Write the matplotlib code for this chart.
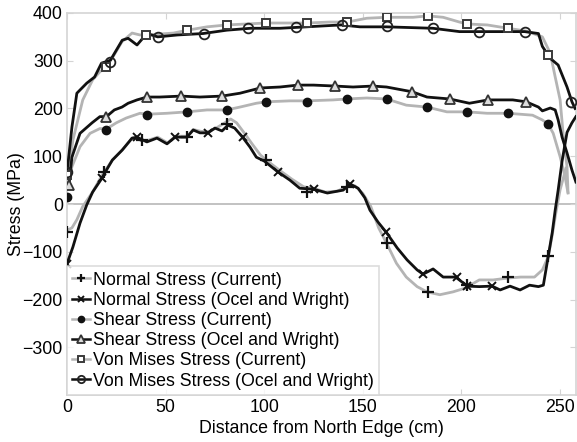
import matplotlib
matplotlib.use("Agg")
import matplotlib.pyplot as plt
from matplotlib.lines import Line2D

plt.rcParams["font.family"] = ["Liberation Sans", "DejaVu Sans"]

# Normal stress (current) - grey line
norm_cur_x = [0, 2.5, 5, 8, 13, 17.7, 23, 28, 33, 40, 46, 51, 55, 61, 64, 68, 72, 76, 80, 83, 86,
              90, 94, 98, 101, 108, 114, 120, 125, 131, 137, 142, 146, 150, 154, 158, 162, 167,
              172, 177.5, 182.5, 189, 195.7, 202, 209, 216, 223.6, 230, 237, 241, 244, 246, 248,
              250, 253]
norm_cur_y = [-55, -50, -33, -5, 25, 60, 92, 113, 138, 132, 140, 128, 142, 142, 156, 152, 152, 160,
              170, 178, 170, 148, 125, 103, 92, 70, 52, 36, 33, 25, 27, 36, 38, 22, -5, -50, -82,
              -124, -153, -173, -184, -190, -184, -176, -159, -159, -155, -153, -153, -138, -110,
              -65, -15, 30, 75]
norm_cur_mx = [0, 19, 38, 61, 81, 101, 121.7, 142, 162, 183, 203, 223.6, 244]
norm_cur_my = [-59, 68, 134, 140, 167, 92, 25, 35, -82, -184, -170, -153, -109]

# Normal stress (Ocel and Wright) - black line
norm_ow_x = [0, 3, 6.6, 10, 13, 17.7, 20, 23, 28, 33, 35.5, 40.5, 45.6, 50.7, 54.8, 60.8, 64, 67.4,
             71.5, 75, 78.6, 81.6, 85, 89, 92.8, 96, 100, 107, 113, 118, 125, 132, 140, 143.5,
             147.6, 151, 153.6, 157.7, 161.8, 167.4, 172.4, 177.5, 180.5, 185.6, 190.7, 197, 203,
             209, 215.5, 219.6, 224.6, 229.7, 234.5, 239, 241.5, 244, 246, 247.5, 249, 251, 253.5,
             256, 258]
norm_ow_y = [-125, -90, -40, -2, 25, 54, 71, 92, 113, 138, 140, 130, 138, 126, 140, 140, 155, 149,
             149, 159, 153, 165, 159, 140, 119, 98, 90, 67, 50, 33, 31, 23, 29, 42, 33, 13, -13,
             -38, -59, -92, -117, -138, -147, -136, -153, -153, -172, -173, -172, -180, -172, -180,
             -170, -173, -170, -109, -60, -13, 29, 90, 150, 170, 183]
norm_ow_mx = [0, 17.7, 35.5, 54.8, 71.5, 89, 107, 125, 143.5, 161.8, 180.5, 197.8, 203, 215.5]
norm_ow_my = [-125, 54, 140, 140, 149, 140, 67, 31, 42, -59, -147, -153, -172, -172]

# Shear stress (current) - grey line
shear_cur_x = [0.5, 2.5, 6.6, 11.7, 16.7, 20, 25, 30, 37, 40.5, 50.7, 61, 71, 81, 87.7, 96, 101,
               113, 121.7, 135, 142, 152, 162, 172, 182.5, 192.6, 203, 213, 223.6, 236, 241, 244,
               246.5, 250, 252.5, 254]
shear_cur_y = [36, 78, 120, 148, 158, 157, 170, 180, 190, 188, 190, 193, 197, 197, 203, 211, 214,
               216, 216, 218, 220, 222, 220, 207, 203, 193, 193, 190, 190, 186, 176, 167, 148, 99,
               57, 23]
shear_cur_mx = [0, 20, 40.5, 61, 81, 101, 121.7, 142, 162, 182.5, 203, 223.6, 244]
shear_cur_my = [15, 155, 186, 193, 197, 214, 214, 220, 220, 203, 193, 190, 167]

# Shear stress (Ocel and Wright) - black line
shear_ow_x = [1, 2.5, 6.6, 12.7, 16.7, 20, 24, 27.9, 31, 35.5, 40.5, 47, 58, 67.4, 78.6, 87.7, 98,
              108, 117, 125, 136, 145, 155, 162, 175, 182.5, 194, 204, 213.5, 226, 232.8, 239, 241,
              245, 247.5, 249, 251, 253.5, 256, 258]
shear_ow_y = [40, 98, 148, 170, 183, 183, 197, 203, 211, 218, 224, 224, 226, 224, 226, 232, 243,
              245, 249, 249, 247, 245, 247, 245, 235, 224, 220, 211, 218, 218, 214, 203, 195, 201,
              197, 176, 140, 107, 71, 46]
shear_ow_mx = [1, 20, 40.5, 58, 78.6, 98, 117, 136, 155, 175, 194, 213.5, 232.8]
shear_ow_my = [40, 183, 224, 226, 226, 243, 249, 247, 247, 235, 220, 218, 214]

# Von Mises stress (current) - grey line
vm_cur_x = [0.5, 3, 8, 13, 16.7, 19.8, 23.3, 27.9, 33, 37, 40, 54, 61, 71, 81, 91, 101, 113, 121.7,
            133, 142, 152, 162, 175.5, 183, 190.7, 199, 203, 213, 223.6, 233, 241, 245, 247.5, 250,
            251.5, 253.5, 254]
vm_cur_y = [57, 134, 218, 260, 277, 287, 308, 340, 358, 354, 354, 358, 364, 371, 375, 377, 379, 379,
            379, 381, 381, 389, 391, 391, 394, 391, 381, 377, 375, 368, 362, 350, 316, 266, 218,
            148, 78, 25]
vm_cur_mx = [0, 19.8, 40, 61, 81, 101, 121.7, 142, 162, 183, 203, 223.6, 244]
vm_cur_my = [61, 287, 354, 364, 375, 379, 379, 381, 391, 394, 377, 368, 312]

# Von Mises stress (Ocel and Wright) - black line
vm_ow_x = [0, 2.5, 5, 10, 14, 17.5, 22, 24, 28, 31, 35.5, 40.5, 46, 56, 69, 81, 93, 108, 117, 139,
           148.5, 162, 185.5, 199, 209, 223, 232, 239, 241, 245, 249, 253.5, 256, 257.6]
vm_ow_y = [65, 161, 232, 253, 266, 295, 301, 315, 343, 347, 333, 357, 350, 354, 357, 364, 368, 368,
           370, 375, 371, 371, 368, 361, 361, 361, 361, 357, 330, 305, 291, 245, 214, 200]
vm_ow_mx = [0, 22, 46, 69.5, 92, 116, 139.5, 162, 185.6, 209, 232, 255.6]
vm_ow_my = [67, 298, 350, 357, 368, 370, 375, 373, 368, 360, 360, 214]

GREY = "#b4b4b4"
BLACK = "#111111"
FRAME = "#d4d4d4"
FS = 12.8

fig = plt.figure(figsize=(5.77, 4.42), dpi=100)
ax = fig.add_axes([0.1161, 0.1063, 0.8820, 0.8643])

ax.axhline(0, color="#bdbdbd", lw=1.3, zorder=1)

series = [
    (norm_cur_x, norm_cur_y, norm_cur_mx, norm_cur_my, GREY,
     dict(marker="+", ms=8, mew=1.6, mfc=BLACK, mec=BLACK), "Normal Stress (Current)"),
    (norm_ow_x, norm_ow_y, norm_ow_mx, norm_ow_my, BLACK,
     dict(marker="x", ms=6, mew=1.4, mfc=BLACK, mec=BLACK), "Normal Stress (Ocel and Wright)"),
    (shear_cur_x, shear_cur_y, shear_cur_mx, shear_cur_my, GREY,
     dict(marker="o", ms=6, mew=1, mfc=BLACK, mec=BLACK), "Shear Stress (Current)"),
    (shear_ow_x, shear_ow_y, shear_ow_mx, shear_ow_my, BLACK,
     dict(marker="^", ms=7, mew=1.3, mfc="#dcdcdc", mec="#333333"), "Shear Stress (Ocel and Wright)"),
    (vm_cur_x, vm_cur_y, vm_cur_mx, vm_cur_my, GREY,
     dict(marker="s", ms=6, mew=1.4, mfc="white", mec="#3a3a3a"), "Von Mises Stress (Current)"),
    (vm_ow_x, vm_ow_y, vm_ow_mx, vm_ow_my, BLACK,
     dict(marker="o", ms=7, mew=1.3, mfc="none", mec="#222222"), "Von Mises Stress (Ocel and Wright)"),
]

handles = []
for x, y, mx, my, col, mk, label in series:
    z = 2 if col == GREY else 3
    ax.plot(x, y, color=col, lw=2.0, zorder=z)
    ax.plot(mx, my, ls="none", zorder=4, **mk)
    handles.append(Line2D([], [], color=col, lw=1.8, **mk))

ax.set_xlim(0, 258)
ax.set_ylim(-400, 400)
ax.set_xticks(range(0, 251, 50))
ax.set_yticks(range(-300, 401, 100))
ax.tick_params(axis="both", labelsize=FS, direction="in", color=FRAME, length=4,
               top=True, right=True, pad=3)
for s in ax.spines.values():
    s.set_color(FRAME)
    s.set_linewidth(1.2)

ax.set_xlabel("Distance from North Edge (cm)", fontsize=FS, labelpad=3)
ax.set_ylabel("Stress (MPa)", fontsize=FS, labelpad=-2)

leg = ax.legend(handles=handles, labels=[s[-1] for s in series], loc="lower left",
                fontsize=FS, frameon=True, fancybox=False, borderaxespad=0,
                handlelength=1.0, handletextpad=0.15, labelspacing=0.18,
                borderpad=0.3, markerscale=0.75)
leg.get_frame().set_edgecolor(FRAME)
leg.get_frame().set_linewidth(1.2)

fig.savefig("out.png", dpi=100)
